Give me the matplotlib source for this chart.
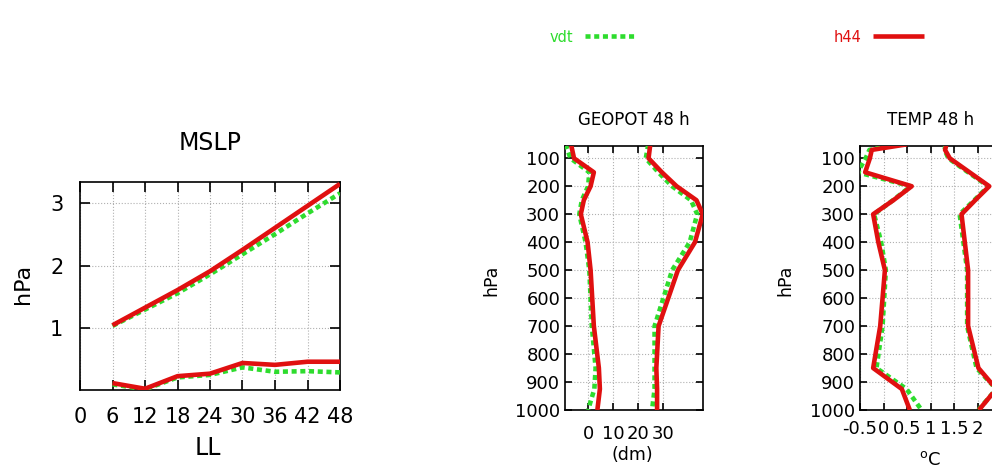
import matplotlib
matplotlib.use('Agg')
import matplotlib.pyplot as plt
from matplotlib.lines import Line2D

plt.rcParams['font.family'] = ['DejaVu Sans']

# MSLP verification vs lead time
ll = [6, 12, 18, 24, 30, 36, 42, 48]
mslp_std_h44 = [1.05, 1.33, 1.61, 1.91, 2.25, 2.60, 2.95, 3.30]
mslp_std_vdt = [1.04, 1.30, 1.56, 1.86, 2.18, 2.50, 2.83, 3.15]
mslp_bias_h44 = [0.13, 0.04, 0.24, 0.28, 0.45, 0.42, 0.47, 0.47]
mslp_bias_vdt = [0.11, 0.03, 0.22, 0.26, 0.38, 0.31, 0.32, 0.30]

# GEOPOT 48 h profiles
geo_lev = [50, 100, 150, 200, 250, 300, 400, 500, 700, 850, 925, 1000]
geo_bias_h44 = [-6.8, -5.6, 2.3, 1.0, -1.7, -2.9, -0.2, 1.0, 2.3, 4.3, 4.7, 3.7]
geo_bias_vdt = [-9.0, -7.0, 0.5, 0.0, -2.5, -3.5, -1.0, 0.5, 1.5, 3.0, 2.5, 0.0]
geo_std_h44 = [24.8, 24.1, 29.4, 35.3, 43.2, 45.7, 42.6, 35.8, 28.1, 27.2, 27.5, 27.5]
geo_std_vdt = [24.0, 23.0, 28.0, 33.5, 41.0, 43.5, 40.5, 33.5, 26.5, 26.5, 26.5, 25.5]

# TEMP 48 h profiles
temp_lev = [50, 70, 100, 150, 200, 250, 300, 400, 500, 700, 850, 925, 1000]
temp_bias_h44 = [0.5, -0.25, -0.29, -0.39, 0.6, 0.21, -0.22, -0.11, 0.03, -0.07, -0.22, 0.39, 0.56]
temp_bias_vdt = [0.3, -0.30, -0.38, -0.55, 0.58, 0.2, -0.2, -0.05, 0.05, -0.02, -0.15, 0.49, 0.81]
temp_std_h44 = [1.34, 1.31, 1.41, 1.83, 2.25, 1.95, 1.66, 1.73, 1.80, 1.80, 2.02, 2.40, 2.03]
temp_std_vdt = [1.32, 1.30, 1.38, 1.80, 2.23, 1.93, 1.62, 1.70, 1.78, 1.78, 1.98, 2.40, 2.02]

RED = '#e01010'
GREEN = '#2edc2e'
red_kw = dict(color=RED, lw=3.3, solid_capstyle='butt', zorder=4)
green_kw = dict(color=GREEN, lw=3.3, ls=(0, (1.1, 0.8)), zorder=3)

W, H = 992, 468
fig = plt.figure(figsize=(W / 100, H / 100), dpi=100)


def px_axes(left, top, right, bottom):
    return fig.add_axes([left / W, 1 - bottom / H, (right - left) / W, (bottom - top) / H])


def style(ax, ls, pad_x, pad_y, length):
    ax.tick_params(direction='in', top=True, right=True, length=length, width=1.2,
                   labelsize=ls)
    ax.tick_params(axis='x', pad=pad_x)
    ax.tick_params(axis='y', pad=pad_y)
    ax.grid(True, ls=':', color='#b0b0b0', lw=0.8)
    for s in ax.spines.values():
        s.set_linewidth(1.2)


# ---- MSLP ----
ax1 = px_axes(80, 182, 340, 390)
ax1.plot(ll, mslp_std_vdt, **green_kw)
ax1.plot(ll, mslp_bias_vdt, **green_kw)
ax1.plot(ll, mslp_std_h44, **red_kw)
ax1.plot(ll, mslp_bias_h44, **red_kw)
ax1.set_xlim(0, 48)
ax1.set_ylim(0.02, 3.33)
ax1.set_xticks([0, 6, 12, 18, 24, 30, 36, 42, 48])
ax1.set_yticks([1, 2, 3])
style(ax1, 15, 12, 12, 7)
ax1.text(0.5, 1.1875, 'MSLP', transform=ax1.transAxes, ha='center', va='center', fontsize=17)
ax1.set_xlabel('LL', fontsize=17, va='center')
ax1.xaxis.set_label_coords(0.49, -0.279)
ax1.set_ylabel('hPa', fontsize=16, va='center')
ax1.yaxis.set_label_coords(-0.219, 0.51)

# ---- GEOPOT ----
ax2 = px_axes(565, 145.7, 703, 410)
ax2.plot(geo_bias_vdt, geo_lev, **green_kw)
ax2.plot(geo_std_vdt, geo_lev, **green_kw)
ax2.plot(geo_bias_h44, geo_lev, **red_kw)
ax2.plot(geo_std_h44, geo_lev, **red_kw)
ax2.set_xlim(-9.2, 45.8)
ax2.set_ylim(1000, 55)
ax2.set_xticks([0, 10, 20, 30])
ax2.set_yticks(range(100, 1001, 100))
style(ax2, 13, 11, 3.5, 5)
ax2.text(0.5, 1.097, 'GEOPOT 48 h', transform=ax2.transAxes, ha='center', va='center', fontsize=12)
ax2.set_xlabel('(dm)', fontsize=12.5, va='center')
ax2.xaxis.set_label_coords(0.49, -0.17)
ax2.set_ylabel('hPa', fontsize=12.5, va='center')
ax2.yaxis.set_label_coords(-0.531, 0.49)

# ---- TEMP ----
ax3 = px_axes(860, 145.7, 1001, 410)
ax3.plot(temp_bias_vdt, temp_lev, **green_kw)
ax3.plot(temp_std_vdt, temp_lev, **green_kw)
ax3.plot(temp_bias_h44, temp_lev, **red_kw)
ax3.plot(temp_std_h44, temp_lev, **red_kw)
ax3.set_xlim(-0.5, 2.5)
ax3.set_ylim(1000, 55)
ax3.set_xticks([-0.5, 0, 0.5, 1, 1.5, 2])
ax3.set_xticklabels(['-0.5', '0', '0.5', '1', '1.5', '2'])
ax3.set_yticks(range(100, 1001, 100))
style(ax3, 13, 7, 3.5, 5)
ax3.text(0.5, 1.097, 'TEMP 48 h', transform=ax3.transAxes, ha='center', va='center', fontsize=12)
ax3.set_xlabel('$^{\\rm o}$C', fontsize=13, va='center')
ax3.xaxis.set_label_coords(0.496, -0.19)
ax3.set_ylabel('hPa', fontsize=12.5, va='center')
ax3.yaxis.set_label_coords(-0.532, 0.49)

# ---- legend ----
handles = [Line2D([], [], **green_kw), Line2D([], [], **red_kw)]
leg = fig.legend(handles, ['vdt', 'h44'], ncol=2, markerfirst=False, frameon=False,
                 loc='center left', bbox_to_anchor=(550 / W, 1 - 37 / H),
                 borderpad=0, borderaxespad=0, fontsize=10.5,
                 handlelength=3.5, handletextpad=0.75, columnspacing=13.6,
                 labelcolor=[GREEN, RED])

fig.savefig('out.png', dpi=100)
